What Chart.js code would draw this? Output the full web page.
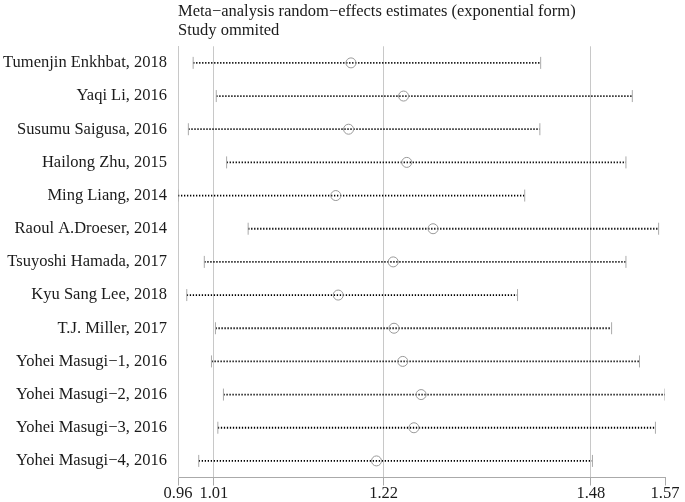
<!DOCTYPE html>
<html>
<head>
<meta charset="utf-8">
<script src="https://cdn.jsdelivr.net/npm/chart.js@4"></script>
<style>
  html, body { margin: 0; padding: 0; background: #fff; }
  #wrap { width: 685px; height: 502px; }
</style>
</head>
<body>
<div id="wrap"><canvas id="chart"></canvas></div>
<script>
// Study omitted -> pooled estimate with 95% CI
const studies = [
  "Tumenjin Enkhbat, 2018",
  "Yaqi Li, 2016",
  "Susumu Saigusa, 2016",
  "Hailong Zhu, 2015",
  "Ming Liang, 2014",
  "Raoul A.Droeser, 2014",
  "Tsuyoshi Hamada, 2017",
  "Kyu Sang Lee, 2018",
  "T.J. Miller, 2017",
  "Yohei Masugi\u22121, 2016",
  "Yohei Masugi\u22122, 2016",
  "Yohei Masugi\u22123, 2016",
  "Yohei Masugi\u22124, 2016",
];
const lower = [0.981, 1.010, 0.975, 1.023, 0.962, 1.050, 0.995, 0.973, 1.009, 1.004, 1.019, 1.012, 0.988];
const estimate = [1.179, 1.245, 1.176, 1.249, 1.160, 1.282, 1.232, 1.163, 1.233, 1.244, 1.267, 1.258, 1.211];
const upper = [1.417, 1.532, 1.416, 1.524, 1.397, 1.565, 1.524, 1.388, 1.506, 1.541, 1.573, 1.561, 1.482];

// x axis: overall lower CI, estimate, upper CI plus min / max bounds
const tickValues = [0.962, 1.007, 1.22, 1.48, 1.573];
const tickLabels = ["0.96", "1.01", "1.22", "1.48", "1.57"];

const serif = "'Liberation Serif', 'Times New Roman', serif";

const intervalSets = studies.map((s, i) => ({
  data: [{ x: lower[i], y: s }, { x: upper[i], y: s }],
  showLine: true,
  borderColor: "#000",
  borderWidth: 1.8,
  borderDash: [1.3, 1.7],
  borderCapStyle: "butt",
  pointStyle: "line",
  rotation: 90,
  pointRadius: 6,
  pointBorderColor: "#aaa",
  pointBorderWidth: 1,
}));

const ctx = document.getElementById("chart").getContext("2d");
new Chart(ctx, {
  type: "scatter",
  data: {
    datasets: [
      {
        data: studies.map((s, i) => ({ x: estimate[i], y: s })),
        showLine: false,
        pointStyle: "circle",
        pointRadius: 5,
        pointBorderColor: "#999",
        pointBackgroundColor: "rgba(0,0,0,0)",
        pointBorderWidth: 1,
      },
      ...intervalSets,
    ],
  },
  options: {
    responsive: true,
    maintainAspectRatio: false,
    animation: false,
    layout: { padding: { left: 3, right: 20, top: 0, bottom: 0 } },
    plugins: {
      legend: { display: false },
      tooltip: { enabled: false },
      title: {
        display: true,
        fullSize: false,
        align: "start",
        text: ["Meta\u2212analysis random\u2212effects estimates (exponential form)", "Study ommited"],
        color: "#1a1a1a",
        font: { family: serif, size: 16.5, weight: "normal", lineHeight: 1.1 },
        padding: { top: 3, bottom: 7 },
      },
    },
    scales: {
      x: {
        type: "linear",
        min: tickValues[0],
        max: tickValues[tickValues.length - 1],
        afterBuildTicks: (scale) => {
          scale.ticks = tickValues.map((v) => ({ value: v }));
        },
        grid: {
          color: (c) => (c.index === tickValues.length - 1 ? "rgba(0,0,0,0)" : "#c8c8c8"),
          tickColor: "#aaa",
          tickLength: 8,
        },
        border: { color: "#aaa" },
        ticks: {
          autoSkip: false,
          maxRotation: 0,
          padding: 0,
          color: "#1a1a1a",
          font: { family: serif, size: 16.5, lineHeight: 1 },
          callback: (v, i) => tickLabels[i],
        },
      },
      y: {
        type: "category",
        labels: studies,
        offset: true,
        afterFit: (scale) => {
          scale.width = 175;
        },
        grid: { display: false, drawTicks: false },
        border: { color: "#c8c8c8" },
        ticks: {
          padding: 11,
          color: "#1a1a1a",
          font: { family: serif, size: 16.5 },
        },
      },
    },
  },
});
</script>
</body>
</html>
